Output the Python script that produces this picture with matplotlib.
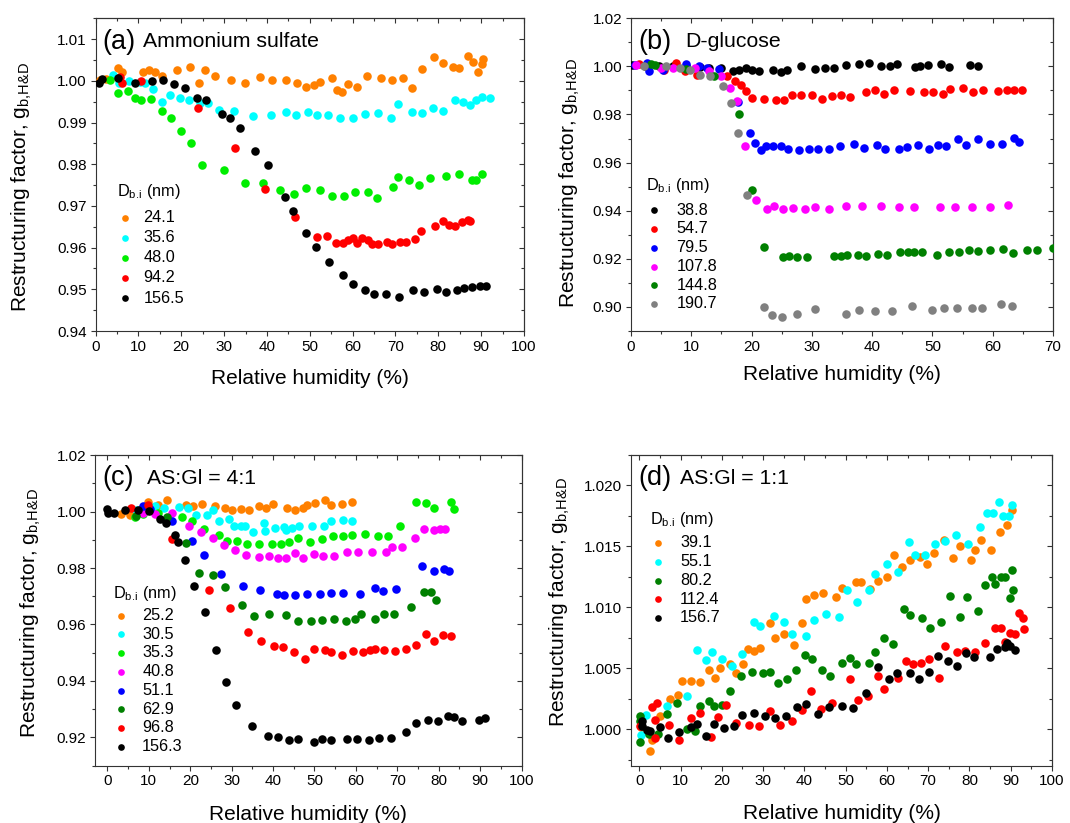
import matplotlib
matplotlib.use("Agg")
import matplotlib.pyplot as plt
from matplotlib.ticker import MultipleLocator, FormatStrFormatter
from matplotlib.mathtext import MathTextParser

plt.rcParams['font.family'] = ['Liberation Sans', 'DejaVu Sans']
plt.rcParams['mathtext.fontset'] = 'custom'
plt.rcParams['mathtext.rm'] = 'Liberation Sans'
plt.rcParams['mathtext.it'] = 'Liberation Sans:italic'


def pick_math(options):
    parser = MathTextParser('agg')
    for s in options:
        try:
            parser.parse(s, dpi=100)
            return s
        except Exception:
            continue
    return options[-1]


YLABEL = pick_math([r'Restructuring factor, $\mathregular{g_{b{,}H&D}}$',
                    r'Restructuring factor, $\mathregular{g_{b,H&D}}$',
                    r'Restructuring factor, $\mathregular{g_{b,H\ and\ D}}$'])
LEGTITLE = pick_math([r'$\mathregular{D_{b.\!i}}$ (nm)', r'$\mathregular{D_{b.i}}$ (nm)'])

# ---------------- Panel (a): Ammonium sulfate ----------------
a_labels = ['24.1', '35.6', '48.0', '94.2', '156.5']
a_colors = ['#FF8000', '#00FFFF', '#00EE00', '#FF0000', '#000000']
a_x_241 = [1.0, 2.5, 5.2, 6.2, 11.1, 12.5, 13.9, 15.5, 18.9, 22.1, 24.1, 25.6, 27.8, 31.6, 34.8, 38.4, 41.2,
           44.5, 47.1, 49.1, 50.9, 52.5, 55.3, 56.3, 57.5, 59.0, 61.1, 63.3, 66.7, 69.2, 71.8, 73.8, 76.2,
           78.9, 81.1, 83.4, 84.9, 86.9, 88.1, 89.3, 90.1, 90.5]
a_y_241 = [1.0003, 1.0005, 1.0030, 1.0021, 1.0022, 1.0025, 1.0021, 1.0011, 1.0027, 1.0034, 0.9994, 1.0027,
           1.0011, 1.0002, 0.9995, 1.0010, 1.0001, 1.0001, 0.9995, 0.9986, 0.9989, 0.9996, 1.0006, 0.9977,
           0.9972, 0.9993, 0.9986, 1.0011, 1.0006, 1.0001, 1.0006, 0.9983, 1.0028, 1.0058, 1.0043, 1.0033,
           1.0030, 1.0059, 1.0046, 1.0022, 1.0041, 1.0053]
a_x_356 = [4.0, 5.5, 7.8, 10.3, 11.5, 13.3, 15.5, 17.3, 19.6, 21.7, 24.3, 26.3, 28.9, 32.4, 36.8, 41.0, 44.4,
           46.9, 49.6, 51.7, 54.3, 57.1, 60.1, 63.0, 66.0, 68.9, 70.6, 73.8, 76.1, 78.8, 81.2, 83.8, 85.8,
           87.5, 88.7, 90.1, 92.0]
a_y_356 = [1.0013, 0.9995, 1.0000, 0.9997, 0.9995, 0.9981, 0.9950, 0.9967, 0.9959, 0.9955, 0.9947, 0.9947,
           0.9930, 0.9927, 0.9915, 0.9917, 0.9926, 0.9918, 0.9926, 0.9919, 0.9919, 0.9912, 0.9910, 0.9921,
           0.9922, 0.9912, 0.9944, 0.9925, 0.9922, 0.9934, 0.9928, 0.9955, 0.9950, 0.9941, 0.9955, 0.9962,
           0.9958]
a_x_480 = [3.3, 5.2, 7.6, 9.3, 10.7, 13.0, 15.4, 17.5, 20.0, 22.3, 24.9, 30.0, 34.8, 39.2, 43.1, 46.3, 49.1,
           52.5, 55.3, 58.1, 60.5, 63.5, 65.6, 69.4, 70.6, 73.2, 75.6, 78.0, 81.8, 84.9, 87.9, 88.9, 90.3]
a_y_480 = [1.0001, 0.9971, 0.9975, 0.9958, 0.9954, 0.9957, 0.9927, 0.9911, 0.9879, 0.9851, 0.9799, 0.9785,
           0.9755, 0.9755, 0.9738, 0.9729, 0.9744, 0.9739, 0.9723, 0.9723, 0.9734, 0.9734, 0.9719, 0.9745,
           0.9769, 0.9761, 0.9751, 0.9767, 0.9771, 0.9777, 0.9762, 0.9763, 0.9777]
a_x_942 = [5.7, 6.1, 10.5, 24.0, 32.5, 39.5, 46.5, 51.7, 54.1, 56.2, 57.7, 59.0, 60.1, 61.1, 62.2, 63.5, 64.6,
           66.0, 68.0, 69.2, 71.0, 72.4, 74.6, 76.0, 79.2, 81.1, 82.5, 83.9, 85.5, 86.9, 87.4]
a_y_942 = [1.0010, 0.9995, 0.9999, 0.9935, 0.9838, 0.9741, 0.9674, 0.9626, 0.9629, 0.9611, 0.9611, 0.9619,
           0.9622, 0.9610, 0.9622, 0.9618, 0.9609, 0.9609, 0.9613, 0.9609, 0.9613, 0.9613, 0.9621, 0.9641,
           0.9653, 0.9663, 0.9654, 0.9653, 0.9662, 0.9666, 0.9663]
a_x_1565 = [0.8, 1.6, 5.2, 9.1, 13.1, 15.7, 18.3, 20.9, 23.6, 25.8, 29.5, 31.4, 33.7, 37.2, 40.2, 44.2, 46.0,
            49.1, 51.5, 54.6, 57.7, 60.1, 63.0, 65.0, 67.9, 70.8, 74.1, 76.6, 79.6, 81.9, 84.3, 85.9, 87.9,
            89.7, 91.1]
a_y_1565 = [0.9995, 1.0005, 1.0006, 0.9994, 0.9999, 1.0003, 0.9993, 0.9983, 0.9959, 0.9954, 0.9921, 0.9910,
            0.9886, 0.9831, 0.9799, 0.9721, 0.9687, 0.9634, 0.9602, 0.9565, 0.9534, 0.9513, 0.9498, 0.9489,
            0.9489, 0.9481, 0.9498, 0.9494, 0.9501, 0.9494, 0.9499, 0.9502, 0.9505, 0.9509, 0.9507]

# ---------------- Panel (b): D-glucose ----------------
b_labels = ['38.8', '54.7', '79.5', '107.8', '144.8', '190.7']
b_colors = ['#000000', '#FF0000', '#0000FF', '#FF00FF', '#008000', '#808080']
b_x_388 = [0.2, 2.4, 4.7, 7.0, 9.2, 11.5, 12.9, 14.9, 16.9, 18.0, 19.1, 20.0, 21.2, 23.5, 24.9, 25.9, 28.2,
           30.6, 32.2, 33.6, 35.7, 37.8, 39.4, 41.5, 42.9, 44.2, 47.1, 48.0, 49.3, 51.4, 52.8, 56.2, 57.6]
b_y_388 = [1.0004, 1.0003, 1.0000, 1.0000, 1.0000, 0.9996, 0.9993, 0.9993, 0.9982, 0.9986, 0.9993, 0.9986,
           0.9979, 0.9986, 0.9976, 0.9983, 1.0000, 0.9990, 0.9993, 0.9993, 1.0004, 1.0010, 1.0014, 1.0000,
           1.0000, 1.0010, 0.9996, 1.0000, 1.0004, 1.0010, 0.9996, 1.0007, 1.0000]
b_x_547 = [1.3, 5.5, 7.4, 8.9, 10.9, 15.9, 17.2, 18.2, 19.0, 20.0, 22.1, 24.1, 25.4, 26.7, 28.2, 30.1, 31.7,
           33.3, 34.8, 36.3, 39.0, 40.4, 41.9, 43.7, 46.3, 48.6, 50.1, 51.7, 52.9, 55.0, 56.7, 58.4, 60.8,
           62.3, 63.6, 64.8]
b_y_547 = [1.0011, 0.9986, 1.0014, 0.9979, 0.9965, 0.9958, 0.9938, 0.9924, 0.9896, 0.9868, 0.9864, 0.9861,
           0.9861, 0.9882, 0.9882, 0.9882, 0.9866, 0.9875, 0.9880, 0.9873, 0.9892, 0.9903, 0.9886, 0.9903,
           0.9896, 0.9892, 0.9892, 0.9885, 0.9906, 0.9910, 0.9895, 0.9900, 0.9896, 0.9900, 0.9903, 0.9903]
b_x_795 = [0.7, 2.7, 3.0, 5.3, 9.2, 11.3, 12.6, 14.6, 17.8, 19.8, 20.6, 21.6, 22.4, 23.5, 24.9, 26.1, 27.8,
           29.5, 31.0, 32.9, 34.7, 37.0, 38.7, 40.8, 42.1, 44.5, 45.8, 47.6, 49.5, 51.0, 52.2, 54.2, 55.5,
           57.5, 59.5, 61.6, 63.5, 64.3]
b_y_795 = [1.0007, 1.0014, 0.9982, 0.9986, 1.0010, 1.0000, 0.9993, 0.9989, 0.9852, 0.9723, 0.9681, 0.9654,
           0.9670, 0.9668, 0.9668, 0.9658, 0.9654, 0.9658, 0.9658, 0.9657, 0.9668, 0.9677, 0.9661, 0.9675,
           0.9657, 0.9657, 0.9665, 0.9673, 0.9658, 0.9672, 0.9668, 0.9699, 0.9675, 0.9697, 0.9677, 0.9679,
           0.9702, 0.9684]
b_x_1078 = [0.8, 5.0, 7.0, 10.6, 12.9, 14.9, 16.5, 17.6, 18.9, 20.8, 22.5, 23.8, 25.2, 26.9, 28.9, 30.6, 32.8,
            35.6, 38.3, 41.5, 44.5, 46.9, 51.3, 53.7, 56.5, 59.6, 62.6]
b_y_1078 = [1.0007, 0.9993, 0.9993, 0.9993, 0.9979, 0.9958, 0.9910, 0.9857, 0.9668, 0.9446, 0.9407, 0.9418,
            0.9407, 0.9411, 0.9409, 0.9417, 0.9409, 0.9421, 0.9418, 0.9421, 0.9414, 0.9416, 0.9414, 0.9417,
            0.9417, 0.9414, 0.9425]
b_x_1448 = [3.3, 4.0, 9.2, 13.8, 18.0, 20.1, 22.1, 25.2, 26.2, 27.5, 29.2, 33.7, 34.8, 35.8, 37.7, 39.0, 40.9,
            42.4, 44.7, 46.0, 46.9, 48.3, 50.8, 52.8, 54.4, 56.1, 57.5, 59.6, 61.7, 63.3, 65.7, 67.4, 70.0]
b_y_1448 = [1.0010, 1.0007, 0.9989, 0.9958, 0.9803, 0.9486, 0.9248, 0.9206, 0.9211, 0.9206, 0.9208, 0.9213,
            0.9213, 0.9216, 0.9216, 0.9211, 0.9222, 0.9216, 0.9230, 0.9230, 0.9227, 0.9230, 0.9217, 0.9229,
            0.9229, 0.9238, 0.9233, 0.9235, 0.9242, 0.9226, 0.9235, 0.9235, 0.9245]
b_x_1907 = [2.2, 5.8, 8.1, 9.8, 11.5, 13.1, 15.2, 16.6, 17.8, 19.3, 22.1, 23.4, 25.1, 27.6, 30.6, 35.7, 37.9,
            40.5, 43.3, 46.6, 50.0, 51.9, 54.1, 56.5, 58.3, 61.3, 63.2]
b_y_1907 = [1.0000, 1.0003, 0.9993, 0.9986, 0.9965, 0.9958, 0.9920, 0.9848, 0.9723, 0.9464, 0.9000, 0.8968,
            0.8957, 0.8972, 0.8993, 0.8972, 0.8989, 0.8982, 0.8985, 0.9003, 0.8986, 0.8994, 0.8994, 0.8996,
            0.8996, 0.9012, 0.9003]

# ---------------- Panel (c): AS:Gl = 4:1 ----------------
c_labels = ['25.2', '30.5', '35.3', '40.8', '51.1', '62.9', '96.8', '156.3']
c_colors = ['#FF8000', '#00FFFF', '#00EE00', '#FF00FF', '#0000FF', '#008000', '#FF0000', '#000000']
c_x_252 = [3.3, 5.4, 7.9, 9.9, 12.1, 14.5, 19.0, 20.7, 22.9, 26.0, 28.3, 30.2, 32.2, 34.3, 36.5, 38.4, 40.1,
           43.4, 45.2, 47.3, 48.3, 50.2, 52.5, 54.0, 56.6, 59.1]
c_y_252 = [0.9990, 0.9988, 1.0006, 1.0032, 1.0024, 1.0041, 1.0024, 1.0020, 1.0027, 1.0018, 1.0012, 1.0006,
           1.0008, 1.0006, 1.0018, 1.0012, 1.0026, 1.0014, 1.0006, 1.0012, 1.0022, 1.0029, 1.0041, 1.0024,
           1.0027, 1.0035]
c_x_305 = [7.0, 11.6, 13.6, 17.4, 19.4, 21.5, 24.0, 25.6, 26.9, 29.3, 30.6, 32.2, 33.3, 35.1, 37.8, 38.0,
           40.5, 42.7, 43.2, 44.6, 46.3, 49.3, 52.3, 54.1, 56.9, 59.1]
c_y_305 = [1.0004, 1.0020, 1.0012, 1.0015, 1.0012, 0.9988, 0.9988, 1.0006, 0.9968, 0.9974, 0.9947, 0.9949,
           0.9949, 0.9929, 0.9961, 0.9932, 0.9941, 0.9945, 0.9935, 0.9941, 0.9949, 0.9949, 0.9949, 0.9965,
           0.9970, 0.9965]
c_x_353 = [6.6, 8.7, 12.1, 18.0, 20.4, 23.4, 26.9, 28.9, 31.4, 33.6, 36.5, 39.7, 41.9, 43.8, 46.1, 48.9, 51.7,
           54.5, 56.9, 59.1, 62.1, 65.3, 67.8, 70.7, 74.4, 76.9, 78.8, 82.9, 83.7]
c_y_353 = [0.9982, 0.9992, 0.9994, 0.9982, 0.9965, 0.9937, 0.9917, 0.9897, 0.9894, 0.9886, 0.9886, 0.9886,
           0.9886, 0.9892, 0.9908, 0.9892, 0.9903, 0.9914, 0.9914, 0.9917, 0.9920, 0.9914, 0.9915, 0.9947,
           1.0035, 1.0030, 1.0014, 1.0035, 1.0009]
c_x_408 = [8.7, 11.6, 15.7, 19.6, 22.7, 25.4, 28.1, 30.8, 33.5, 36.5, 39.0, 41.1, 43.2, 45.3, 47.3, 50.0, 52.1,
           54.8, 57.9, 60.6, 64.0, 67.2, 68.8, 71.1, 74.2, 76.4, 78.9, 80.2, 81.6]
c_y_408 = [0.9994, 0.9991, 0.9996, 0.9947, 0.9926, 0.9906, 0.9882, 0.9864, 0.9847, 0.9838, 0.9841, 0.9837,
           0.9837, 0.9853, 0.9835, 0.9849, 0.9844, 0.9843, 0.9855, 0.9857, 0.9855, 0.9858, 0.9876, 0.9876,
           0.9908, 0.9938, 0.9935, 0.9938, 0.9938]
c_x_511 = [8.5, 10.3, 15.7, 20.4, 23.2, 27.4, 32.8, 36.8, 40.9, 42.7, 45.3, 48.2, 51.4, 54.0, 56.9, 61.0,
           64.6, 66.5, 69.8, 76.0, 78.9, 81.2, 82.5]
c_y_511 = [1.0020, 1.0008, 0.9965, 0.9894, 0.9847, 0.9780, 0.9735, 0.9721, 0.9709, 0.9703, 0.9703, 0.9709,
           0.9709, 0.9713, 0.9713, 0.9708, 0.9729, 0.9717, 0.9725, 0.9808, 0.9788, 0.9796, 0.9788]
c_x_629 = [7.0, 14.3, 19.0, 22.1, 25.6, 28.5, 32.4, 35.5, 39.1, 43.1, 46.0, 49.2, 51.8, 54.7, 57.6, 59.8, 61.2,
           64.5, 66.9, 69.3, 73.4, 76.4, 78.1, 79.3]
c_y_629 = [0.9985, 0.9979, 0.9888, 0.9784, 0.9776, 0.9732, 0.9670, 0.9629, 0.9637, 0.9634, 0.9613, 0.9613,
           0.9617, 0.9621, 0.9613, 0.9619, 0.9637, 0.9619, 0.9637, 0.9637, 0.9662, 0.9716, 0.9716, 0.9688]
c_x_968 = [5.8, 9.7, 15.5, 24.5, 29.6, 34.0, 37.2, 40.3, 42.3, 45.0, 47.8, 50.0, 52.6, 53.9, 56.6, 59.3, 61.6,
           63.5, 64.7, 66.9, 69.4, 72.1, 74.4, 76.9, 78.9, 81.0, 82.9]
c_y_968 = [1.0012, 1.0024, 0.9903, 0.9723, 0.9660, 0.9573, 0.9540, 0.9525, 0.9519, 0.9502, 0.9478, 0.9514,
           0.9508, 0.9504, 0.9491, 0.9507, 0.9502, 0.9511, 0.9513, 0.9511, 0.9505, 0.9514, 0.9526, 0.9566,
           0.9540, 0.9564, 0.9560]
c_x_1563 = [0.0, 0.2, 1.5, 4.3, 7.4, 10.1, 12.8, 14.2, 16.3, 17.1, 18.8, 20.8, 23.6, 26.2, 28.7, 31.0, 34.9,
            38.8, 41.1, 43.8, 46.0, 50.0, 51.8, 54.0, 57.9, 60.2, 63.1, 65.5, 68.6, 72.1, 74.6, 77.3, 79.9,
            82.2, 83.7, 85.7, 89.7, 91.2]
c_y_1563 = [1.0008, 0.9996, 0.9994, 1.0006, 1.0006, 1.0002, 0.9973, 0.9959, 0.9917, 0.9892, 0.9827, 0.9737,
            0.9644, 0.9511, 0.9395, 0.9314, 0.9242, 0.9206, 0.9202, 0.9192, 0.9196, 0.9183, 0.9196, 0.9192,
            0.9195, 0.9195, 0.9192, 0.9198, 0.9198, 0.9219, 0.9251, 0.9261, 0.9257, 0.9275, 0.9271, 0.9257,
            0.9261, 0.9269]

# ---------------- Panel (d): AS:Gl = 1:1 ----------------
d_labels = ['39.1', '55.1', '80.2', '112.4', '156.7']
d_colors = ['#FF8000', '#00FFFF', '#008000', '#FF0000', '#000000']
d_x_391 = [0.5, 2.6, 3.0, 5.1, 7.5, 9.3, 10.4, 12.5, 14.7, 16.9, 18.4, 19.6, 21.9, 23.4, 25.2, 26.4, 27.7,
           29.3, 31.6, 32.9, 35.1, 37.4, 39.4, 40.3, 42.4, 44.4, 47.7, 49.0, 52.4, 53.8, 55.8, 57.9, 60.0,
           61.8, 63.7, 65.6, 67.9, 69.7, 71.4, 73.9, 75.9, 77.6, 80.3, 81.4, 82.8, 85.3, 87.3, 89.1, 90.2]
d_y_391 = [1.00020, 0.99823, 0.99913, 1.00104, 1.00248, 1.00281, 1.00396, 1.00396, 1.00385, 1.00486,
           1.00423, 1.00499, 1.00532, 1.00458, 1.00532, 1.00655, 1.00644, 1.00663, 1.00873, 1.00750,
           1.00778, 1.00690, 1.00873, 1.01072, 1.01100, 1.01119, 1.01086, 1.01160, 1.01209, 1.01209,
           1.01154, 1.01217, 1.01250, 1.01427, 1.01332, 1.01392, 1.01413, 1.01353, 1.01449, 1.01550,
           1.01408, 1.01501, 1.01392, 1.01468, 1.01550, 1.01468, 1.01618, 1.01678, 1.01801]
d_x_551 = [0.5, 1.6, 6.8, 11.5, 14.0, 16.1, 17.7, 20.0, 22.4, 25.0, 27.7, 29.3, 32.6, 35.0, 37.0, 40.3, 42.4,
           45.2, 48.4, 50.3, 52.8, 55.6, 57.1, 60.1, 62.6, 65.4, 66.8, 69.3, 71.6, 74.1, 76.7, 79.7, 82.5,
           84.2, 85.8, 87.1, 88.2, 89.6, 90.2]
d_y_551 = [0.99954, 1.00117, 1.00191, 1.00276, 1.00649, 1.00568, 1.00636, 1.00573, 1.00518, 1.00617,
           1.00876, 1.00846, 1.00928, 1.00881, 1.00778, 1.00764, 1.00895, 1.00944, 1.00922, 1.01146,
           1.01045, 1.01140, 1.01277, 1.01353, 1.01291, 1.01536, 1.01427, 1.01427, 1.01517, 1.01544,
           1.01596, 1.01522, 1.01659, 1.01774, 1.01774, 1.01864, 1.01746, 1.01746, 1.01836]
d_x_802 = [0.1, 0.1, 0.2, 2.4, 4.5, 6.7, 9.2, 11.5, 13.4, 14.8, 16.9, 18.1, 20.0, 22.1, 24.6, 27.3, 29.9, 31.6,
           33.7, 35.7, 37.9, 40.1, 41.8, 44.2, 46.3, 49.0, 51.0, 52.5, 55.7, 57.1, 59.3, 61.4, 64.1, 65.6,
           68.4, 70.5, 73.2, 75.3, 77.8, 79.5, 82.1, 83.8, 85.4, 86.2, 87.6, 88.7, 89.8, 90.2, 90.5]
d_y_802 = [1.00109, 1.00068, 0.99891, 0.99962, 0.99959, 1.00126, 1.00213, 1.00003, 0.99989, 1.00194,
           1.00235, 1.00194, 1.00199, 1.00317, 1.00439, 1.00467, 1.00458, 1.00467, 1.00377, 1.00412,
           1.00486, 1.00608, 1.00576, 1.00486, 1.00439, 1.00540, 1.00587, 1.00532, 1.00546, 1.00636,
           1.00745, 1.00698, 1.00985, 1.00941, 1.00909, 1.00827, 1.00876, 1.01094, 1.00922, 1.01086,
           1.00971, 1.01181, 1.01250, 1.01190, 1.01250, 1.01250, 1.01080, 1.01304, 1.01146]
d_x_1124 = [0.3, 3.1, 4.2, 3.9, 3.9, 7.2, 9.6, 12.6, 14.8, 17.3, 19.0, 21.0, 23.5, 26.7, 29.1, 31.6, 34.1,
            37.0, 39.4, 41.5, 44.1, 46.6, 51.0, 52.9, 55.3, 57.9, 59.4, 62.6, 64.7, 66.2, 68.3, 70.2, 72.6,
            74.1, 77.0, 78.8, 81.3, 83.8, 86.2, 87.6, 88.6, 89.8, 91.1, 92.0, 93.0, 93.3]
d_y_1124 = [1.00022, 1.00180, 1.00213, 1.00076, 0.99926, 1.00035, 0.99907, 1.00090, 1.00136, 0.99932,
            1.00098, 1.00199, 1.00049, 1.00035, 1.00027, 1.00150, 1.00035, 1.00063, 1.00158, 1.00317,
            1.00164, 1.00218, 1.00412, 1.00240, 1.00273, 1.00437, 1.00330, 1.00423, 1.00562, 1.00532,
            1.00546, 1.00573, 1.00417, 1.00682, 1.00630, 1.00641, 1.00630, 1.00704, 1.00827, 1.00827,
            1.00718, 1.00791, 1.00778, 1.00950, 1.00909, 1.00819]
d_x_1567 = [0.6, 0.7, 1.8, 2.7, 5.1, 7.0, 9.6, 12.5, 14.0, 16.1, 18.1, 20.5, 22.9, 24.9, 27.9, 30.4, 32.8,
            35.5, 38.2, 40.3, 43.4, 45.9, 49.0, 51.7, 55.0, 57.9, 60.4, 62.5, 65.5, 67.7, 70.3, 72.4, 74.9,
            77.1, 79.2, 81.1, 85.0, 86.7, 88.6, 89.1, 89.8, 91.1]
d_y_1567 = [1.00063, 1.00027, 0.99995, 0.99981, 1.00016, 0.99926, 0.99973, 1.00016, 1.00044, 0.99940,
            1.00044, 1.00008, 1.00027, 1.00117, 1.00136, 1.00112, 1.00090, 1.00104, 1.00180, 1.00207,
            1.00123, 1.00180, 1.00191, 1.00172, 1.00295, 1.00513, 1.00409, 1.00464, 1.00464, 1.00409,
            1.00467, 1.00603, 1.00562, 1.00518, 1.00622, 1.00589, 1.00589, 1.00655, 1.00671, 1.00709,
            1.00682, 1.00649]

panels = [
    dict(pos=[0.0893, 0.5978, 0.4004, 0.380], tag='(a)', name='Ammonium sulfate', name_x=0.11,
         labels=a_labels, colors=a_colors,
         xs=[a_x_241, a_x_356, a_x_480, a_x_942, a_x_1565],
         ys=[a_y_241, a_y_356, a_y_480, a_y_942, a_y_1565],
         xlim=(0, 100), ylim=(0.94, 1.015), ymaj=0.01, ymin=0.005, yfmt='%.2f', xmax_tick=100,
         ylab=(-0.143, 0.4616), xlab_y=-0.12,
         leg=(0.049, 0.478), lsp=0.31, htp=0.66, tsep=7.1),
    dict(pos=[0.5897, 0.5978, 0.3944, 0.380], tag='(b)', name='D-glucose', name_x=0.129,
         labels=b_labels, colors=b_colors,
         xs=[b_x_388, b_x_547, b_x_795, b_x_1078, b_x_1448, b_x_1907],
         ys=[b_y_388, b_y_547, b_y_795, b_y_1078, b_y_1448, b_y_1907],
         xlim=(0, 70), ylim=(0.89, 1.02), ymaj=0.02, ymin=0.01, yfmt='%.2f', xmax_tick=70,
         ylab=(-0.116, 0.472), xlab_y=-0.11,
         leg=(0.036, 0.497), lsp=0.23, htp=0.87, tsep=5.85),
    dict(pos=[0.0888, 0.0696, 0.3986, 0.3775], tag='(c)', name='AS:Gl = 4:1', name_x=0.123,
         labels=c_labels, colors=c_colors,
         xs=[c_x_252, c_x_305, c_x_353, c_x_408, c_x_511, c_x_629, c_x_968, c_x_1563],
         ys=[c_y_252, c_y_305, c_y_353, c_y_408, c_y_511, c_y_629, c_y_968, c_y_1563],
         xlim=(-3, 100), ylim=(0.91, 1.02), ymaj=0.02, ymin=0.01, yfmt='%.2f', xmax_tick=100,
         ylab=(-0.122, 0.49), xlab_y=-0.128,
         leg=(0.041, 0.586), lsp=0.23, htp=0.83, tsep=3.8),
    dict(pos=[0.5897, 0.0696, 0.3935, 0.3775], tag='(d)', name='AS:Gl = 1:1', name_x=0.116,
         labels=d_labels, colors=d_colors,
         xs=[d_x_391, d_x_551, d_x_802, d_x_1124, d_x_1567],
         ys=[d_y_391, d_y_551, d_y_802, d_y_1124, d_y_1567],
         xlim=(-2, 100), ylim=(0.997, 1.0225), ymaj=0.005, ymin=0.0025, yfmt='%.3f', xmax_tick=100,
         ylab=(-0.141, 0.528), xlab_y=-0.122,
         leg=(0.046, 0.824), lsp=0.23, htp=0.83, tsep=4.8),
]

fig = plt.figure(figsize=(10.70, 8.23), dpi=100)

for p in panels:
    ax = fig.add_axes(p['pos'])
    for xv, yv, c, lab in zip(p['xs'], p['ys'], p['colors'], p['labels']):
        ax.scatter(xv, yv, s=38, color=c, linewidths=0, label=lab, zorder=3)
    ax.set_xlim(*p['xlim'])
    ax.set_ylim(*p['ylim'])
    ax.set_xticks(list(range(0, p['xmax_tick'] + 1, 10)))
    ax.xaxis.set_minor_locator(MultipleLocator(5))
    ax.yaxis.set_major_locator(MultipleLocator(p['ymaj']))
    ax.yaxis.set_minor_locator(MultipleLocator(p['ymin']))
    ax.yaxis.set_major_formatter(FormatStrFormatter(p['yfmt']))
    ax.tick_params(which='both', direction='out', top=False, right=False, labelsize=11, pad=2.5,
                   color='#333333', width=0.8)
    ax.tick_params(which='major', length=3.8)
    ax.tick_params(which='minor', length=2.2)
    axt = ax.secondary_xaxis('top')
    axt.set_xticks(list(range(0, p['xmax_tick'] + 1, 10)))
    axt.xaxis.set_minor_locator(MultipleLocator(5))
    axt.tick_params(which='both', direction='in', labeltop=False, color='#333333', width=0.8)
    axt.tick_params(which='major', length=3.8)
    axt.tick_params(which='minor', length=2.2)
    axr = ax.secondary_yaxis('right')
    axr.yaxis.set_major_locator(MultipleLocator(p['ymaj']))
    axr.yaxis.set_minor_locator(MultipleLocator(p['ymin']))
    axr.tick_params(which='both', direction='in', labelright=False, color='#333333', width=0.8)
    axr.tick_params(which='major', length=3.8)
    axr.tick_params(which='minor', length=2.2)
    for sp in list(ax.spines.values()):
        sp.set_color('#333333')
        sp.set_linewidth(0.8)
    for a2 in (axt, axr):
        for sp in a2.spines.values():
            sp.set_color('#333333')
            sp.set_linewidth(0.8)

    ax.set_xlabel('Relative humidity (%)', fontsize=15)
    ax.xaxis.set_label_coords(0.5, p['xlab_y'])
    ax.set_ylabel(YLABEL, fontsize=15)
    ax.yaxis.set_label_coords(*p['ylab'])

    ax.text(0.017, 0.925, p['tag'], transform=ax.transAxes, fontsize=19.5, va='center', ha='left')
    ax.text(p['name_x'], 0.925, p['name'], transform=ax.transAxes, fontsize=15.3, va='center', ha='left')

    leg = ax.legend(loc='upper left', bbox_to_anchor=p['leg'], frameon=False, fontsize=11.7,
                    title=LEGTITLE, title_fontsize=11.7, alignment='left',
                    borderpad=0, borderaxespad=0, handlelength=1.0, handletextpad=p['htp'],
                    labelspacing=p['lsp'], markerscale=0.78)
    try:
        leg._legend_box.sep = p['tsep']
    except Exception:
        pass

fig.savefig('out.png', dpi=100)
